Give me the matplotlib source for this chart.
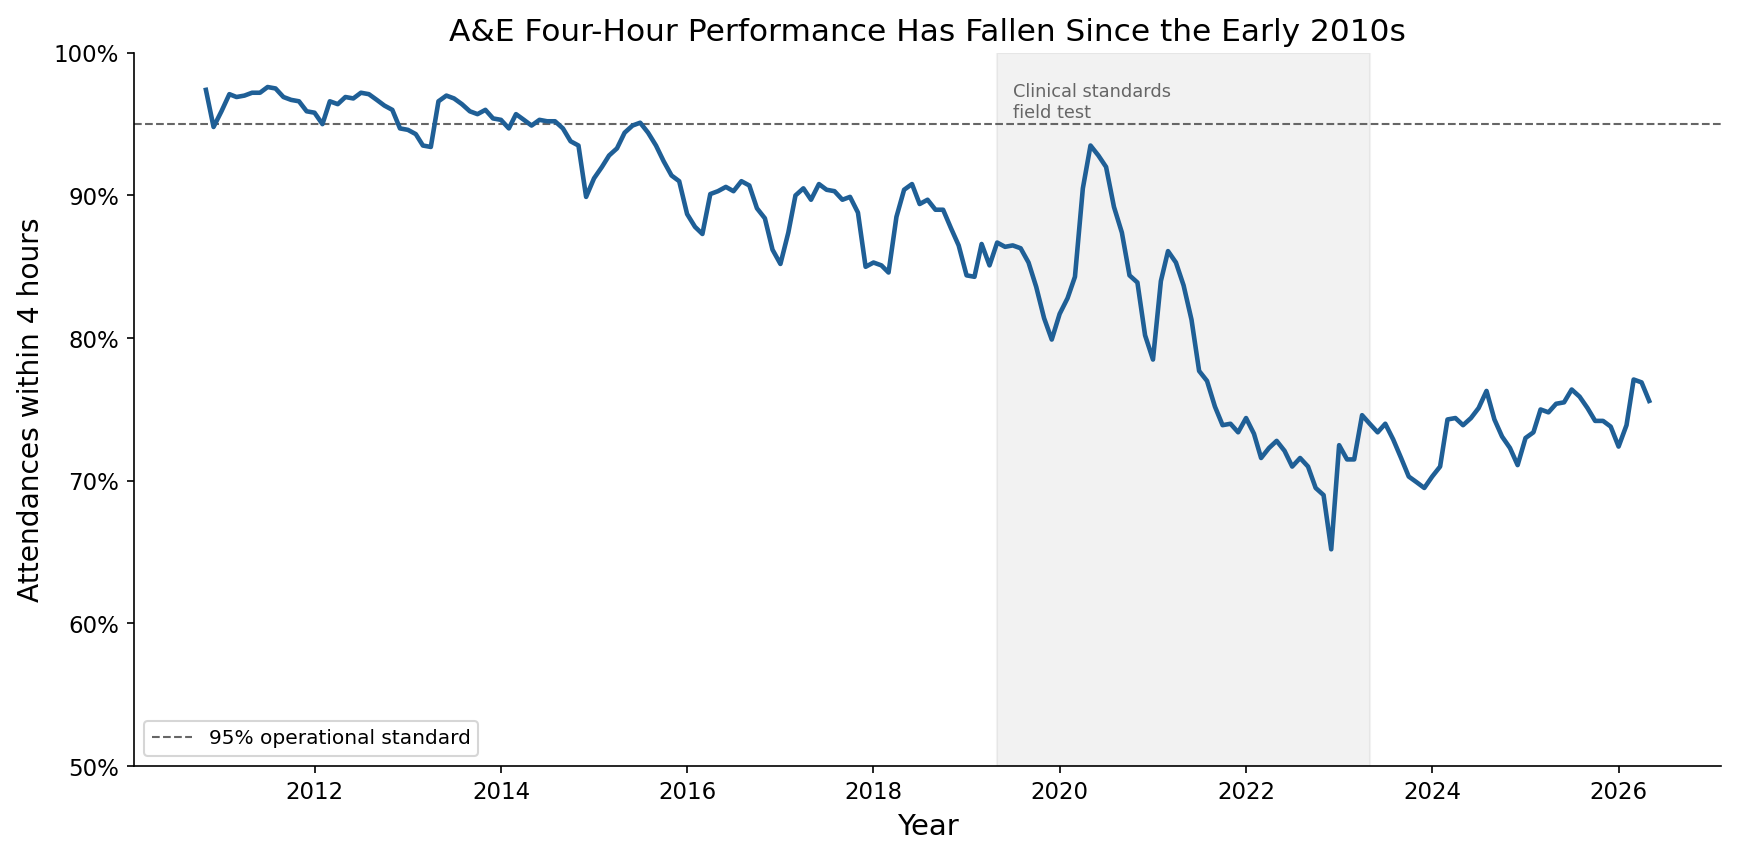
import numpy as np
import pandas as pd
import matplotlib
matplotlib.use("Agg")
from matplotlib import pyplot as plt
import matplotlib.dates as mdates
from matplotlib.ticker import PercentFormatter

# monthly share of attendances seen within 4 hours (%), Nov 2010 - May 2026
start_month = "2010-11-01"
performance = [
    97.4, 94.8, 95.9, 97.1, 96.9, 97.0, 97.2, 97.2, 97.6, 97.5, 96.9, 96.7,
    96.6, 95.9, 95.8, 95.0, 96.6, 96.4, 96.9, 96.8, 97.2, 97.1, 96.7, 96.3,
    96.0, 94.7, 94.6, 94.3, 93.5, 93.4, 96.6, 97.0, 96.8, 96.4, 95.9, 95.7,
    96.0, 95.4, 95.3, 94.7, 95.7, 95.3, 94.9, 95.3, 95.2, 95.2, 94.7, 93.8,
    93.5, 89.9, 91.2, 92.0, 92.8, 93.3, 94.4, 94.9, 95.1, 94.4, 93.5, 92.4,
    91.4, 91.0, 88.7, 87.8, 87.3, 90.1, 90.3, 90.6, 90.3, 91.0, 90.7, 89.1,
    88.4, 86.2, 85.2, 87.4, 90.0, 90.5, 89.7, 90.8, 90.4, 90.3, 89.7, 89.9,
    88.8, 85.0, 85.3, 85.1, 84.6, 88.5, 90.4, 90.8, 89.4, 89.7, 89.0, 89.0,
    87.7, 86.5, 84.4, 84.3, 86.6, 85.1, 86.7, 86.4, 86.5, 86.3, 85.3, 83.6,
    81.4, 79.9, 81.7, 82.8, 84.3, 90.5, 93.5, 92.8, 92.0, 89.2, 87.4, 84.4,
    83.9, 80.2, 78.5, 84.0, 86.1, 85.3, 83.7, 81.3, 77.7, 77.0, 75.2, 73.9,
    74.0, 73.4, 74.4, 73.3, 71.6, 72.3, 72.8, 72.1, 71.0, 71.6, 71.0, 69.5,
    69.0, 65.2, 72.5, 71.5, 71.5, 74.6, 74.0, 73.4, 74.0, 72.9, 71.6, 70.3,
    69.9, 69.5, 70.3, 71.0, 74.3, 74.4, 73.9, 74.4, 75.1, 76.3, 74.3, 73.1,
    72.3, 71.1, 73.0, 73.4, 75.0, 74.8, 75.4, 75.5, 76.4, 75.9, 75.1, 74.2,
    74.2, 73.8, 72.4, 73.9, 77.1, 76.9, 75.6,
]
dates = pd.date_range(start_month, periods=len(performance), freq="MS")

target = 95
field_test_start = pd.Timestamp("2019-05-01")
field_test_end = pd.Timestamp("2023-05-01")

fig = plt.figure(figsize=(11.58, 5.73), dpi=150)
ax = fig.add_axes([0.077, 0.108, 0.914, 0.83])

ax.axvspan(field_test_start, field_test_end, color="gray", alpha=0.1, zorder=0)
ax.axhline(target, color="#666666", linestyle="--", linewidth=1,
           label="95% operational standard")
ax.plot(dates, performance, color="#1f5f96", linewidth=2.2)

ax.text(pd.Timestamp("2019-07-01"), 97.9, "Clinical standards\nfield test",
        fontsize=8.5, color="#666666", va="top", ha="left")

ax.set_ylim(50, 100)
ax.yaxis.set_major_formatter(PercentFormatter(decimals=0))
ax.xaxis.set_major_locator(mdates.YearLocator(2))
ax.xaxis.set_major_formatter(mdates.DateFormatter("%Y"))

ax.set_title("A&E Four-Hour Performance Has Fallen Since the Early 2010s", fontsize=15)
ax.set_xlabel("Year", fontsize=14)
ax.set_ylabel("Attendances within 4 hours", fontsize=13.5)
ax.tick_params(labelsize=11)
ax.spines["top"].set_visible(False)
ax.spines["right"].set_visible(False)
ax.legend(loc="lower left", fontsize=9.7)

fig.savefig("out.png", dpi=150)
